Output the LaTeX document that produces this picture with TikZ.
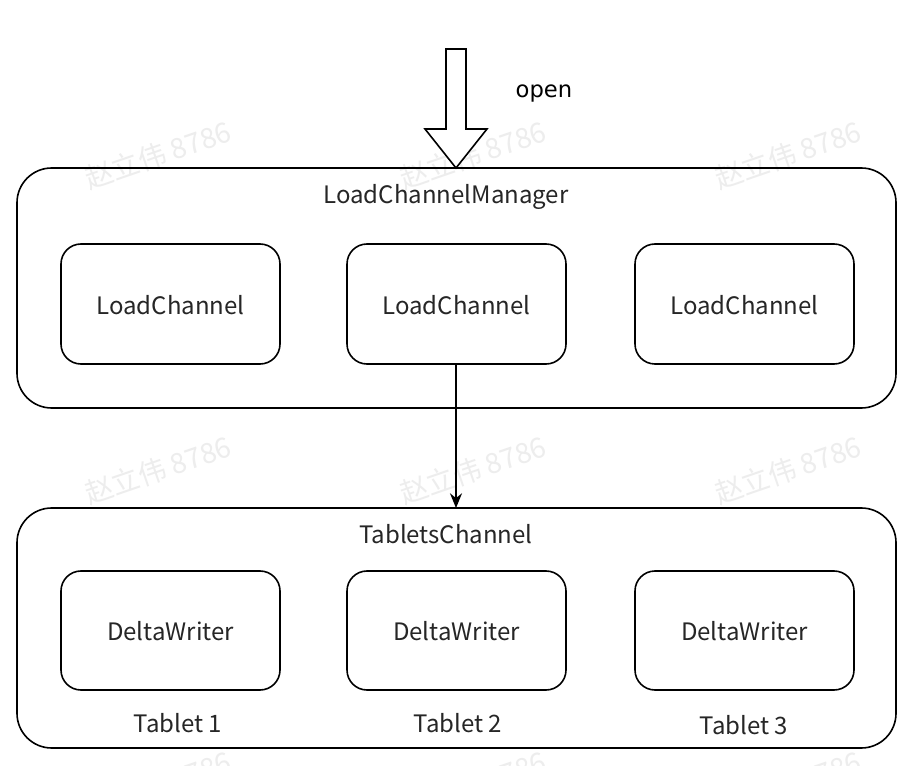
\documentclass[tikz,border=0pt]{standalone}
\usepackage{fontspec}
\setmainfont{Noto Sans CJK SC}
\newfontfamily\dvfont{DejaVu Sans}
\usetikzlibrary{arrows.meta}
\begin{document}
\begin{tikzpicture}[x=0.75pt,y=-0.75pt,
  outerbox/.style={draw=black,line width=1.2pt,rounded corners=26pt},
  innerbox/.style={draw=black,line width=1.2pt,rounded corners=15pt},
  lbl/.style={font=\fontsize{18}{21}\selectfont,text=black!85},
  wm/.style={font=\fontsize{21}{24}\selectfont,text=black!7,rotate=19}]
\useasboundingbox (0,0) rectangle (914,766);
\fill[white] (0,0) rectangle (914,766);
% watermarks
\begin{scope}
\clip (0,0) rectangle (914,766);
\foreach \x in {158,473,788}{
  \foreach \y in {155,470,785}{
    \node[wm] at (\x,\y) {赵立伟 8786};
  }
}
\end{scope}
% outer boxes
\draw[outerbox] (17,168) rectangle (896,408);
\draw[outerbox] (17,508) rectangle (896,748);
\node[lbl] (lcm) at (446,197) {LoadChannelManager};
\node[lbl] (tc) at (446,534) {TabletsChannel};
% inner boxes
\foreach \n/\x in {a/61,b/347,c/635}{
  \draw[innerbox] (\x,244) rectangle ++(219,120);
  \node[lbl] (lc\n) at (\x+109.5,305) {LoadChannel};
  \draw[innerbox] (\x,571) rectangle ++(219,119);
  \node[lbl] (dw\n) at (\x+109.5,631) {DeltaWriter};
}
\coordinate (lcbot) at (456,364);
\coordinate (tctop) at (456,508);
\draw[line width=1.1pt,-{Stealth[length=11pt,width=9pt]}] (lcbot) -- (tctop);
\node[lbl] (t1) at (178,723) {Tablet 1};
\node[lbl] (t2) at (458,723) {Tablet 2};
\node[lbl] (t3) at (744,725) {Tablet 3};
% hollow arrow
\coordinate (tip) at (456,168);
\draw[line width=1.2pt,fill=white,line join=miter]
  (446,49) -- (466,49) -- (466,129) -- (487,129) -- (tip) -- (425,129) -- (446,129) -- cycle;
\node[font=\dvfont\fontsize{17}{20}\selectfont] (open) at (544,94) {open};
\end{tikzpicture}
\end{document}
